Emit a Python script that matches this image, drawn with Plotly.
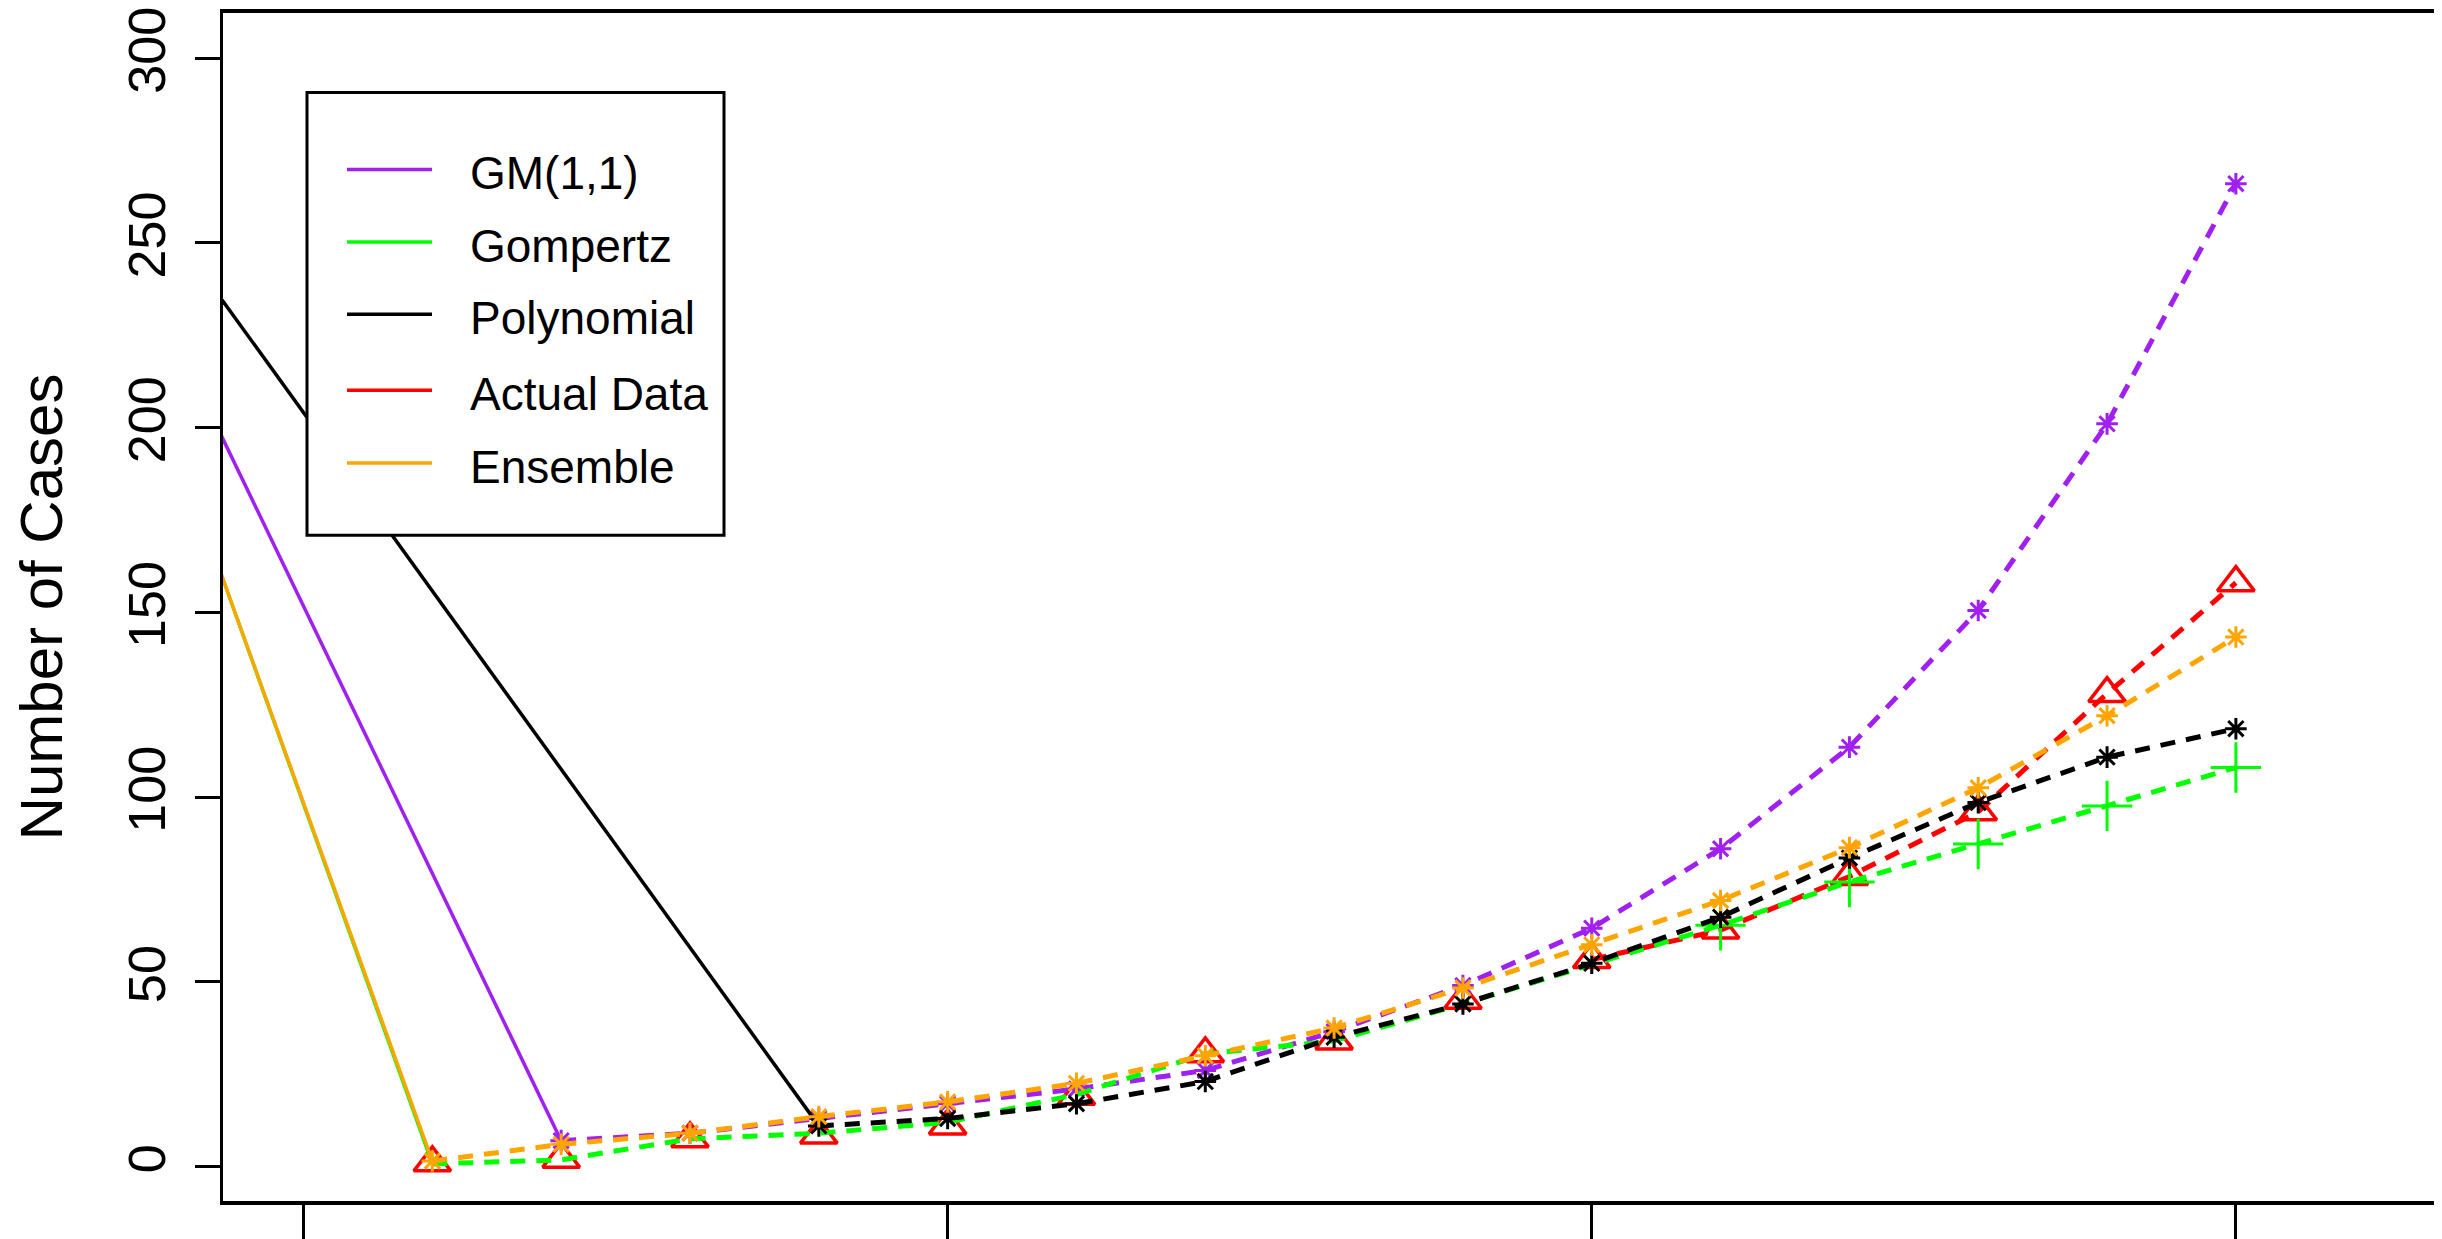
import plotly.graph_objects as go

# ---------------- data ----------------
days = list(range(1, 16))
actual = [1, 2, 7.5, 8.5, 11, 19, 30.5, 34, 45, 56, 64, 78.5, 96, 128, 158]
gm_days = list(range(2, 16))
gm = [7, 9, 13, 17, 21, 26, 36.5, 49, 64.5, 86, 113.5, 150.5, 201, 266]
gompertz = [0.7, 1.8, 7.5, 9, 12, 19.5, 30.5, 34, 44, 54.5, 65.3, 77, 87.3, 97.6, 108]
poly_days = list(range(4, 16))
poly = [11, 13, 17, 23, 35, 44, 55, 67.5, 83.5, 98.5, 110.8, 118.5]
ensemble = [1.5, 6, 9, 13.5, 17.5, 22.5, 30, 37.5, 48.3, 60, 72, 86.3, 102.5, 122, 143.3]

# solid lead-in segments (value off the left edge -> first fitted value)
gm_fit_x = [-1, 2]
gm_fit = [224.0, 7]
gomp_fit_x = [-1, 1]
gomp_fit = [195.5, 0.7]
poly_fit_x = [-1, 4]
poly_fit = [252.3, 11]
ens_fit_x = [-1, 1]
ens_fit = [195.3, 1.5]

forecast_start = 9  # index of day 10 (red dashed line / green crosses from here)

x_ticks = [0, 5, 10, 15]
y_ticks = [0, 50, 100, 150, 200, 250, 300]
y_tick_labels = [str(v) for v in y_ticks]

legend_labels = ["GM(1,1)", "Gompertz", "Polynomial", "Actual Data", "Ensemble"]
PURPLE, GREEN, BLACK, RED, ORANGE = "#A020F0", "#00FF00", "#000000", "#FF0000", "#FFA500"
legend_colors = [PURPLE, GREEN, BLACK, RED, ORANGE]

# ---------------- layout geometry ----------------
# page is 2442x1239; the html body adds an 8px offset
OFF = 8
PAGE_W, PAGE_H = 2442, 1239
W, H = PAGE_W - OFF, PAGE_H - OFF
PLOT_L, PLOT_T, PLOT_B = 223, 12.5, 1201   # plot box in page pixels
L = PLOT_L - OFF
T = PLOT_T - OFF
B = H - (PLOT_B - OFF)
R = 0
PW, PH = W - L - R, H - T - B

def px(xp):  # page pixel -> paper x
    return (xp - OFF - L) / PW

def py(yp):  # page pixel -> paper y
    return (H - B - (yp - OFF)) / PH

DASH = "15px,11px"
LW = 5
FONT = "Liberation Sans, Arial, sans-serif"

fig = go.Figure()

# actual data
fig.add_trace(go.Scatter(x=days[forecast_start:], y=actual[forecast_start:], mode="lines",
                         line=dict(color=RED, width=LW, dash=DASH), showlegend=False))
fig.add_trace(go.Scatter(x=days, y=actual, mode="markers",
                         marker=dict(symbol="triangle-up-open", size=32, color=RED,
                                     line=dict(color=RED, width=3.5)), showlegend=False))

# GM(1,1)
fig.add_trace(go.Scatter(x=gm_fit_x, y=gm_fit, mode="lines",
                         line=dict(color=PURPLE, width=3.5), showlegend=False))
fig.add_trace(go.Scatter(x=gm_days, y=gm, mode="lines+markers",
                         line=dict(color=PURPLE, width=LW, dash=DASH),
                         marker=dict(symbol="asterisk-open", size=18, color=PURPLE,
                                     line=dict(color=PURPLE, width=3)), showlegend=False))

# Gompertz
fig.add_trace(go.Scatter(x=gomp_fit_x, y=gomp_fit, mode="lines",
                         line=dict(color=GREEN, width=3.5), showlegend=False))
fig.add_trace(go.Scatter(x=days, y=gompertz, mode="lines",
                         line=dict(color=GREEN, width=LW, dash=DASH), showlegend=False))
fig.add_trace(go.Scatter(x=days[forecast_start + 1:], y=gompertz[forecast_start + 1:], mode="markers",
                         marker=dict(symbol="cross-thin-open", size=36, color=GREEN,
                                     line=dict(color=GREEN, width=3)), showlegend=False))

# Polynomial
fig.add_trace(go.Scatter(x=poly_fit_x, y=poly_fit, mode="lines",
                         line=dict(color=BLACK, width=3.5), showlegend=False))
fig.add_trace(go.Scatter(x=poly_days, y=poly, mode="lines+markers",
                         line=dict(color=BLACK, width=LW, dash=DASH),
                         marker=dict(symbol="asterisk-open", size=18, color=BLACK,
                                     line=dict(color=BLACK, width=3)), showlegend=False))

# Ensemble
fig.add_trace(go.Scatter(x=ens_fit_x, y=ens_fit, mode="lines",
                         line=dict(color=ORANGE, width=3.5), showlegend=False))
fig.add_trace(go.Scatter(x=days, y=ensemble, mode="lines+markers",
                         line=dict(color=ORANGE, width=LW, dash=DASH),
                         marker=dict(symbol="asterisk-open", size=18, color=ORANGE,
                                     line=dict(color=ORANGE, width=3)), showlegend=False))

# ---------------- legend (drawn box) ----------------
shapes = [dict(type="rect", xref="paper", yref="paper",
               x0=px(307), x1=px(724), y0=py(535), y1=py(92),
               line=dict(color="black", width=3), fillcolor="white", layer="above")]
annotations = []
legend_y = [169, 241.7, 314, 390, 462.7]
for lab, col, yy in zip(legend_labels, legend_colors, legend_y):
    shapes.append(dict(type="line", xref="paper", yref="paper",
                       x0=px(347), x1=px(432), y0=py(yy), y1=py(yy),
                       line=dict(color=col, width=3.5), layer="above"))
    annotations.append(dict(text=lab, xref="paper", yref="paper", x=px(468), y=py(yy + 4),
                            xanchor="left", yanchor="middle", showarrow=False,
                            font=dict(family=FONT, size=46, color="black")))

fig.update_layout(
    width=W, height=H,
    margin=dict(l=L, r=R, t=T, b=B, pad=0, autoexpand=False),
    paper_bgcolor="white", plot_bgcolor="white",
    showlegend=False,
    font=dict(family=FONT, color="black"),
    shapes=shapes, annotations=annotations,
)

fig.update_xaxes(range=[-0.625, 16.6], tickvals=x_ticks, showticklabels=False,
                 ticks="outside", ticklen=45, tickwidth=2.5, tickcolor="black",
                 showline=True, linecolor="black", linewidth=3.5, mirror=True,
                 showgrid=False, zeroline=False, automargin=False)
fig.update_yaxes(range=[-9.33, 312.2], tickvals=y_ticks, ticktext=y_tick_labels,
                 tickangle=-90, tickfont=dict(family=FONT, size=52, color="black"),
                 ticks="outside", ticklen=25, tickwidth=2.5, tickcolor="black",
                 ticklabelstandoff=9, ticklabeloverflow="allow",
                 showline=True, linecolor="black", linewidth=3, mirror=False,
                 showgrid=False, zeroline=False, automargin=False,
                 title=dict(text="Number of Cases", font=dict(family=FONT, size=60, color="black"),
                            standoff=42))

fig.write_html("out.html")
